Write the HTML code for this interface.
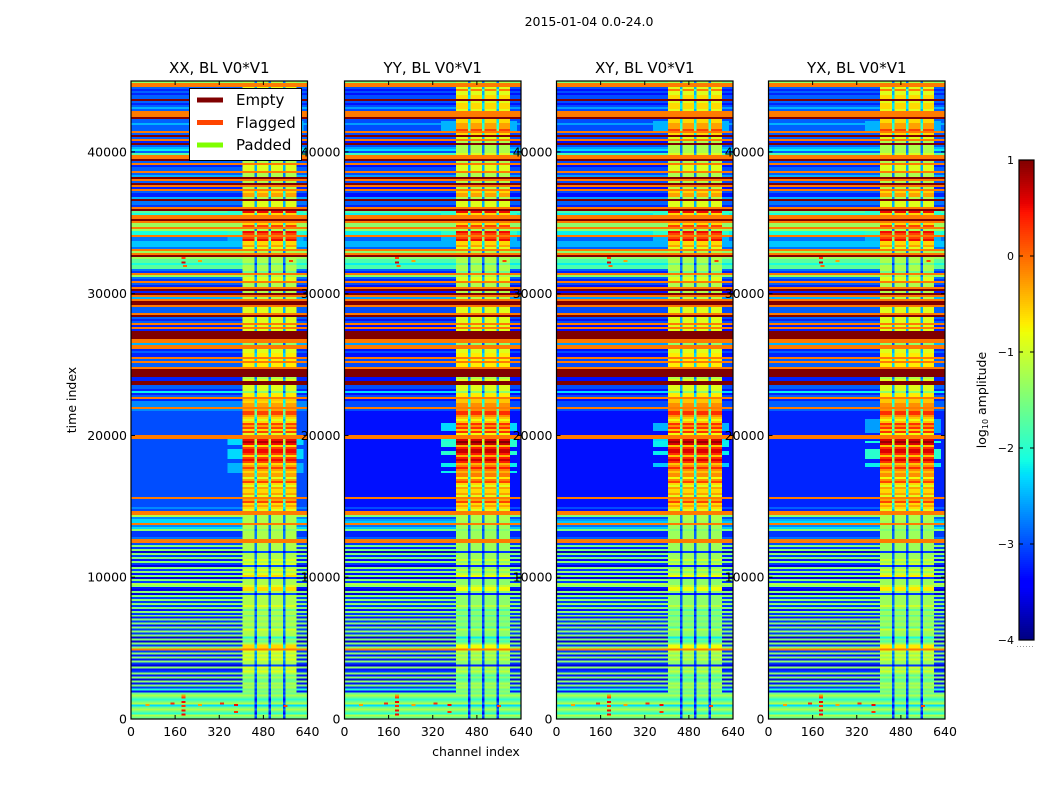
<!DOCTYPE html>
<html>
<head>
<meta charset="utf-8">
<title>2015-01-04 amplitude waterfall</title>
<style>
html,body{margin:0;padding:0;background:#fff;width:1050px;height:800px;overflow:hidden}
svg{display:block}
text{font-family:"DejaVu Sans","Liberation Sans",sans-serif;fill:#000}
</style>
</head>
<body>
<svg id="chart" width="1050" height="800" viewBox="0 0 1050 800" xmlns="http://www.w3.org/2000/svg">
<text x="589" y="26" font-size="12.5" text-anchor="middle">2015-01-04 0.0-24.0</text>
<text x="476" y="756" font-size="12.5" text-anchor="middle">channel index</text>
<text x="76" y="400" font-size="12.5" text-anchor="middle" transform="rotate(-90 76 400)">time index</text>
<g id="panels"></g>
<g>
<rect x="189.5" y="88.5" width="112" height="72" fill="#fff" stroke="#000" stroke-width="1"/>
<rect x="197" y="97.5" width="26" height="5" fill="#800000"/>
<text x="236" y="105" font-size="15">Empty</text>
<rect x="197" y="120" width="26" height="5" fill="#ff4500"/>
<text x="236" y="128" font-size="15">Flagged</text>
<rect x="197" y="142.5" width="26" height="5" fill="#7fff00"/>
<text x="236" y="150" font-size="15">Padded</text>
</g>
<g id="colorbar"></g>
<text x="986" y="400" font-size="12.5" text-anchor="middle" transform="rotate(-90 986 400)">log<tspan font-size="8" dy="2">10</tspan><tspan dy="-2"> amplitude</tspan></text>
</svg>
<script>
// Levels are log10 amplitude in tenths; -1 = flagged rows, 10 = empty rows.
const panelNames = ['XX', 'YY', 'XY', 'YX'];
const xTicks = [0, 160, 320, 480, 640];
const yTicks = [0, 10000, 20000, 30000, 40000];
const colorbarTicks = [1, 0, -1, -2, -3, -4];
const channelEdges = [0, 350, 405, 448, 457, 499, 508, 551, 560, 601, 625, 640];
const segmentKinds = ['bg', 'halo', 'band', 'gap', 'band', 'gap', 'band', 'gap', 'band', 'halo', 'bg'];
const timeMax = 45000;
const timeBin = 141;
const rowsPerBlock = 20;

const bgRows = [
[-12,-1,-1,-27,-30,-27,-30,-27,-27,10,-27,-30,-27,-23,-27,-1,-1,-1,10,-27],
[-27,-23,-27,-27,-27,-1,-27,10,-27,-1,-30,10,-27,-23,-20,-27,-16,-1,-1,10],
[-27,-1,-30,-27,-27,-1,-27,-23,10,-1,-27,10,-1,-30,-1,-27,-30,-30,-23,10],
[-27,-27,-30,-1,10,-16,-20,-1,-1,10,-1,-12,-12,-1,-12,-20,-20,-1,-27,-27],
[-23,-23,-23,-27,-1,-12,-1,10,-12,-16,-16,-20,-16,-16,-27,-30,-1,-12,-27,-30],
[-1,-27,-30,-1,10,-30,10,-1,-23,-1,10,10,-1,-27,-27,-27,-1,10,-27,-30],
[-27,-1,-30,-1,-30,10,10,10,10,-1,-1,-23,-1,-1,-30,-27,-30,-30,-1,-27],
[-1,-27,-27,-1,10,10,10,10,-30,-30,10,10,-27,-27,-30,-20,-30,-27,-1,-30],
[-27,-27,-27,-1,-27,-30,-30,-30,-30,-30,-30,-30,-30,-30,-30,-30,-30,-1,-1,-30],
[-30,-30,-30,-30,-30,-30,-30,-30,-30,-30,-30,-30,-30,-30,-30,-30,-30,-30,-30,-30],
[-30,-30,-30,-30,-30,-30,-30,-30,-1,-30,-30,-30,-30,-27,-30,-1,-1,-12,-27,-23],
[-23,-1,-27,-23,-14,-31,-31,-31,-28,-1,-1,-30,-14,-31,-14,-36,-14,-31,-14,-33],
[-14,-31,-36,-14,-31,-14,-33,-14,-36,-14,-31,-12,-14,-33,-36,-14,-36,-14,-31,-14],
[-31,-14,-31,-14,-33,-14,-31,-14,-33,-14,-31,-14,-33,-14,-31,-14,-31,-14,-36,-14],
[-36,-14,-31,-14,-1,-31,-14,-33,-14,-33,-14,-31,-36,-14,-33,-31,-14,-33,-14,-36],
[-14,-33,-14,-31,-20,-33,-16,-12,-16,-20,-16,-12,-23,-16,-12,-16,-20,-12,-16,-16]
];
const bandRows = [
[-12,-1,-1,-9,-1,-9,-9,-6,-6,10,-9,-6,-6,-6,-9,-1,-1,-1,10,-6],
[-6,-3,-3,-3,2,-1,-6,10,-9,-1,-12,10,-12,-12,-12,-12,-9,-1,-1,10],
[-12,-1,-9,-9,-9,-1,-12,-12,10,-1,-12,10,-1,-12,-1,-6,-3,-3,-12,10],
[-9,-9,-9,-1,10,5,-6,-1,-1,10,-1,-6,2,-1,-12,5,2,-1,2,5],
[-6,-6,-3,-9,-1,-12,-1,10,-12,-12,-12,-16,-12,-12,-12,-16,-1,-12,-9,-9],
[-1,-12,-12,-1,10,-12,10,-1,-12,-1,10,10,-1,-9,-9,-9,-1,10,-9,-9],
[-9,-1,-9,-1,-9,10,10,10,10,-1,-1,-14,-1,-1,-9,-9,-7,-7,-1,-7],
[-1,-7,-7,-1,10,10,10,10,-12,-9,10,10,-9,-9,-9,-14,-7,-7,-1,-5],
[-6,-3,-3,-1,-3,2,2,-3,-6,-9,-6,2,-3,2,-6,2,-9,-1,-1,5],
[8,5,-6,2,5,5,2,-6,2,5,2,-6,-3,2,-3,-6,-3,-3,-9,-3],
[2,-6,-9,-3,-6,-6,-3,-9,-1,-3,2,-6,-3,-6,-9,-1,-1,-12,-12,-12],
[-12,-1,-12,-12,-14,-12,-12,-12,-12,-1,-1,-12,-12,-12,-12,-30,-12,-12,-12,-9],
[-12,-9,-30,-12,-9,-12,-9,-6,-30,-12,-12,-12,-9,-6,-6,-12,-30,-12,-12,-12],
[-12,-12,-9,-12,-16,-12,-12,-16,-12,-12,-14,-12,-12,-16,-9,-12,-12,-12,-20,-14],
[-16,-12,-6,-6,-1,-9,-12,-9,-12,-9,-12,-12,-30,-9,-12,-9,-12,-16,-12,-16],
[-16,-12,-14,-12,-16,-14,-16,-12,-16,-20,-16,-12,-23,-16,-12,-16,-20,-12,-16,-16]
];
const bgShift = [
[-2,-2,-2,-1,-1,-2,-2,-2,0,0,0,0,0,0,0,0],
[-3,-3,-3,-2,-2,-3,-3,-3,-3,-3,-3,-1,0,0,0,0],
[-3,-3,-3,-2,-2,-3,-3,-3,-3,-3,-3,-1,0,0,0,0],
[-2,-2,-2,-1,-1,-2,-2,-2,-2,-2,-2,0,0,0,0,0]
];
const bandShift = [
[0,0,0,0,0,0,0,0,0,0,0,0,0,0,0,0],
[0,0,0,0,0,0,0,0,1,2,0,-1,-2,-2,-2,0],
[0,0,0,0,0,0,0,0,1,1,0,-1,-2,-2,-2,0],
[0,0,0,0,0,0,0,0,1,1,0,-1,-1,-1,-1,0]
];
const haloCommon = [[42180,41470,-25],[35830,35550,-20],[34420,34140,-20],[34000,33720,-25]];
const haloXX = [[19900,19300,-23],[19000,18300,-23],[18000,17400,-25]];
const haloYY = [[20880,20390,-23],[19960,19680,-21],[19680,19190,-20],[18980,18620,-20],[18060,17780,-22],[17570,17350,-22]];
const haloXY = [[20880,20390,-25],[19960,19680,-23],[19680,19190,-22],[18980,18620,-22],[18060,17780,-24]];
const haloYX = [[21230,20170,-26],[19680,19470,-21],[19110,18410,-20],[18060,17770,-22]];
const hotChannels = [190, 190, 190, 190, 190, 190, 60, 150, 250, 330, 380, 380, 560, 190, 190, 195, 580, 250];
const hotTimes = [300, 600, 900, 1200, 1500, 1650, 1000, 1100, 1000, 1100, 1000, 500, 900, 32200, 32500, 31950, 32300, 32300];
const hotLevels = [5, 5, 3, 5, 2, -3, -3, 3, -3, 3, 5, 3, 2, 6, 2, 0, 2, -3];
const gapGain = 0.9;
const gapBase = -17;
const haloByPanel = [haloXX, haloYY, haloXY, haloYX];

const plotTop = 81, plotBottom = 719;
const panelLefts = [131, 344.5, 556.5, 768.5];
const panelWidth = 176.5;
const NS = 'http://www.w3.org/2000/svg';

function yScale(t) { return plotBottom - t * (plotBottom - plotTop) / timeMax; }
function xScale(p, c) { return panelLefts[p] + c * panelWidth / 640; }
function lerp(stops, x) {
  for (let i = 1; i < stops.length; i++) {
    if (x <= stops[i][0]) {
      const a = stops[i - 1], b = stops[i];
      return a[1] + (b[1] - a[1]) * (x - a[0]) / (b[0] - a[0]);
    }
  }
  return stops[stops.length - 1][1];
}
const jetR = [[0,0],[0.35,0],[0.66,1],[0.89,1],[1,0.5]];
const jetG = [[0,0],[0.125,0],[0.375,1],[0.64,1],[0.91,0],[1,0]];
const jetB = [[0,0.5],[0.11,1],[0.34,1],[0.65,0],[1,0]];
function color(logAmp) {
  const x = Math.max(0, Math.min(1, (logAmp + 4) / 5));
  return 'rgb(' + Math.round(255 * lerp(jetR, x)) + ',' + Math.round(255 * lerp(jetG, x)) + ',' + Math.round(255 * lerp(jetB, x)) + ')';
}
function make(tag, attrs, parent) {
  const el = document.createElementNS(NS, tag);
  for (const k in attrs) el.setAttribute(k, attrs[k]);
  parent.appendChild(el);
  return el;
}
function cellLevel(kind, p, block, row, t) {
  const bgRaw = bgRows[block][row];
  const bandRaw = bandRows[block][row];
  if (bgRaw === -1 || bgRaw === 10) return bgRaw;
  const bg = bgRaw + bgShift[p][block];
  const band = bandRaw + bandShift[p][block];
  if (kind === 'bg') return bg;
  if (kind === 'band') return band;
  if (kind === 'gap') return Math.max(-34, band * gapGain + gapBase);
  const spans = haloCommon.concat(haloByPanel[p]);
  for (const s of spans) {
    if (t <= s[0] && t >= s[1]) return s[2];
  }
  return bg;
}

const panelsRoot = document.getElementById('panels');
panelNames.forEach(function (name, p) {
  const low = name.toLowerCase();
  const g = make('g', {}, panelsRoot);
  
  
  const heat = make('g', { 'shape-rendering': 'crispEdges' }, g);
  
  
  bgRows.forEach(function (blockRows, block) {
    blockRows.forEach(function (unused, row) {
      const t1 = timeMax - (block * rowsPerBlock + row) * timeBin;
      const t0 = Math.max(0, t1 - timeBin);
      if (t1 <= 0) return;
      segmentKinds.forEach(function (kind, s) {
        const v = cellLevel(kind, p, block, row, (t0 + t1) / 2) / 10;
        const x0 = xScale(p, channelEdges[s]);
        const x1 = xScale(p, channelEdges[s + 1]);
        const cell = make('rect', { x: x0, y: yScale(t1), width: x1 - x0, height: yScale(t0) - yScale(t1), fill: color(v) }, heat);
        
        
      });
    });
  });
  hotChannels.forEach(function (c, i) {
    const spot = make('rect', {
      x: xScale(p, c) - 2, y: yScale(hotTimes[i]) - 1, width: 4, height: 2, fill: color(hotLevels[i] / 10)
    }, heat);
    
    
  });
  const left = xScale(p, 0), right = xScale(p, 640);
  const frame = make('rect', {
    x: left, y: plotTop, width: right - left, height: plotBottom - plotTop, fill: 'none', stroke: '#000', 'stroke-width': 1.2
  }, g);
  
  
  xTicks.forEach(function (v) {
    const x = xScale(p, v);
    const tb = make('line', { x1: x, x2: x, y1: plotBottom, y2: plotBottom - 4, stroke: '#000' }, g);
    
    
    const tt = make('line', { x1: x, x2: x, y1: plotTop, y2: plotTop + 4, stroke: '#000' }, g);
    
    
    const lab = make('text', { x: x, y: 736, 'font-size': 12.5, 'text-anchor': 'middle' }, g);
    
    
    lab.textContent = String(v);
  });
  yTicks.forEach(function (v) {
    const y = yScale(v);
    const tl = make('line', { x1: left, x2: left + 4, y1: y, y2: y, stroke: '#000' }, g);
    
    
    const tr = make('line', { x1: right, x2: right - 4, y1: y, y2: y, stroke: '#000' }, g);
    
    
    const lab = make('text', { x: left - 4, y: y + 4.5, 'font-size': 12.5, 'text-anchor': 'end' }, g);
    
    
    lab.textContent = String(v);
  });
  const title = make('text', { x: (left + right) / 2, y: 73, 'font-size': 15, 'text-anchor': 'middle' }, g);
  
  
  title.textContent = name + ', BL V0*V1';
});

const cbTop = 160, cbBottom = 640, cbLeft = 1019, cbRight = 1034;
const cbMax = 1, cbMin = -4;
function cbScale(v) { return cbTop + (cbMax - v) * (cbBottom - cbTop) / (cbMax - cbMin); }
const cbRoot = document.getElementById('colorbar');
const cbCells = make('g', { 'shape-rendering': 'crispEdges' }, cbRoot);


for (let y = cbTop; y < cbBottom; y += 2) {
  const v = cbMax - (y + 1 - cbTop) * (cbMax - cbMin) / (cbBottom - cbTop);
  const c = make('rect', { x: cbLeft, y: y, width: cbRight - cbLeft, height: 2, fill: color(v) }, cbCells);
  
  
}
const cbFrame = make('rect', { x: cbLeft, y: cbTop, width: cbRight - cbLeft, height: cbBottom - cbTop, fill: 'none', stroke: '#000', 'stroke-width': 1.2 }, cbRoot);


colorbarTicks.forEach(function (v) {
  const y = cbScale(v);
  const a = make('line', { x1: cbLeft, x2: cbLeft + 4, y1: y, y2: y, stroke: '#000' }, cbRoot);
  
  
  const b = make('line', { x1: cbRight, x2: cbRight - 4, y1: y, y2: y, stroke: '#000' }, cbRoot);
  
  
  const lab = make('text', { x: 1014, y: y + 4, 'font-size': 11, 'text-anchor': 'end' }, cbRoot);
  
  
  lab.textContent = v < 0 ? '\u2212' + Math.abs(v) : String(v);
});
const cbDots = make('line', { x1: 1017, x2: 1035, y1: 646.5, y2: 646.5, stroke: '#999', 'stroke-dasharray': '1 2' }, cbRoot);


</script>
</body>
</html>
